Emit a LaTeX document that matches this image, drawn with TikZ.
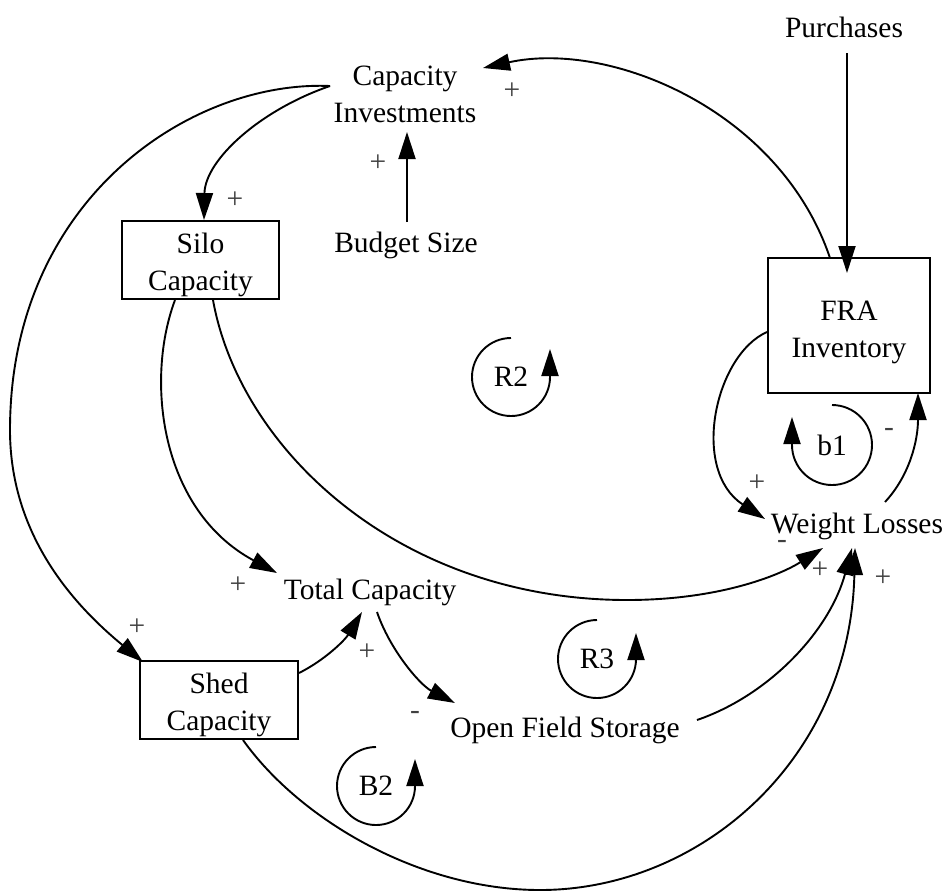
\documentclass[tikz,border=0pt]{standalone}
\usepackage{fontspec}
\setmainfont{Liberation Serif}
\usetikzlibrary{arrows.meta}
\begin{document}
\begin{tikzpicture}[x=1pt,y=1pt,
  every node/.style={font=\fontsize{29.5}{37}\selectfont},
  txt/.style={inner sep=0pt},
  box/.style={draw, line width=2pt, align=center, inner sep=0pt},
  arr/.style={line width=1.9pt, -{Triangle[length=27pt,width=17pt]}},
  pol/.style={inner sep=0pt, text=black!75},
  loopn/.style={inner sep=0pt}]
\useasboundingbox (0,0) rectangle (947,-895);

% variables
\node[txt, anchor=base] (pur) at (844,-37) {Purchases};
\node[txt, align=center] (ci) at (405,-94) {Capacity\\Investments};
\node[txt, anchor=base] (bud) at (406,-252) {Budget Size};
\node[box, minimum width=157pt, minimum height=78pt] (silo) at (200.5,-260) {\rule{0pt}{29.5pt}Silo\\Capacity};
\node[box, minimum width=162pt, minimum height=135pt] (fra) at (849,-325.5) {\rule{0pt}{32.5pt}FRA\\Inventory};
\node[txt, anchor=base] (wl) at (857,-533) {Weight Losses};
\node[txt, anchor=base] (tc) at (370,-599) {Total Capacity};
\node[box, minimum width=158pt, minimum height=78pt] (shed) at (219,-700) {\rule{0pt}{29.5pt}Shed\\Capacity};
\node[txt, anchor=base] (ofs) at (565,-737) {Open Field Storage};

% loop labels
\node[loopn] (r2) at (511,-377) {R2};
\node[loopn] (r3) at (597,-659) {R3};
\node[loopn] (b2) at (376,-786) {B2};
\node[loopn] (b1) at (832,-445) {b1};

% connectors
\draw[arr] ([shift={(3,-16)}]pur.base) -- ([shift={(3,-16)}]pur.base |- fra.north);
\draw[arr] ([shift={(-19,67.5)}]fra.center) .. controls (780,-110) and (610,-40) .. ([shift={(78,26)}]ci.center);
\draw[arr] ([shift={(1,30)}]bud.base) -- ([shift={(2,-38)}]ci.center);
\draw[arr] ([shift={(-75,8)}]ci.center) .. controls (260,-110) and (205,-160) .. ([shift={(3.5,40)}]silo.center);
\draw[arr] ([shift={(-75,8)}]ci.center) .. controls (190,-80) and (10,-200) .. (10,-430)
   .. controls (10,-540) and (80,-610) .. ([shift={(-76,38)}]shed.center);
\draw[arr] ([shift={(-25.5,-40)}]silo.center) .. controls (145,-380) and (160,-510) .. ([shift={(-93,26)}]tc.base);
\draw[arr] ([shift={(12.5,-40)}]silo.center) .. controls (240,-450) and (400,-600) .. (627,-600)
   .. controls (720,-600) and (780,-575) .. ([shift={(-34,-15)}]wl.base);
\draw[arr] ([shift={(80,27)}]shed.center) .. controls (325,-660) and (345,-640) .. ([shift={(-8,-13)}]tc.base);
\draw[arr] ([shift={(7,-13)}]tc.base) .. controls (390,-650) and (420,-685) .. ([shift={(-110,34)}]ofs.base);
\draw[arr] ([shift={(132,17)}]ofs.base) .. controls (770,-695) and (830,-630) .. ([shift={(-5,-15)}]wl.base);
\draw[arr] ([shift={(24,-40)}]shed.center) .. controls (300,-820) and (420,-890) .. (540,-890)
   .. controls (700,-890) and (850,-760) .. ([shift={(-2,-15)}]wl.base);
\draw[arr] ([shift={(-82,-6.5)}]fra.center) .. controls (715,-355) and (690,-470) .. ([shift={(-92,14)}]wl.base);
\draw[arr] ([shift={(28,31)}]wl.base) .. controls (910,-475) and (918,-440) .. ([shift={(69,-67.5)}]fra.center);

% loop arrows
\draw[arr] ([yshift=39]r2.center) arc[start angle=90,end angle=360,radius=39] -- ++(0,28);
\draw[arr] ([yshift=39]r3.center) arc[start angle=90,end angle=360,radius=39] -- ++(0,26);
\draw[arr] ([yshift=39]b2.center) arc[start angle=90,end angle=360,radius=39] -- ++(0,27);
\draw[arr] ([yshift=40]b1.center) arc[start angle=90,end angle=-180,radius=40] -- ++(0,28);

% polarities
\node[pol] (p1) at (512,-91) {+};
\node[pol] (p2) at (378,-163) {+};
\node[pol] (p3) at (235,-200) {+};
\node[pol] (p4) at (137,-627) {+};
\node[pol] (p5) at (238,-585) {+};
\node[pol] (p6) at (367,-652) {+};
\node[pol] (p7) at (415,-715) {-};
\node[pol] (p8) at (757,-483) {+};
\node[pol] (p9) at (782,-544) {-};
\node[pol] (p10) at (820,-570) {+};
\node[pol] (p11) at (883,-578) {+};
\node[pol] (p12) at (889,-432) {-};
\end{tikzpicture}
\end{document}
